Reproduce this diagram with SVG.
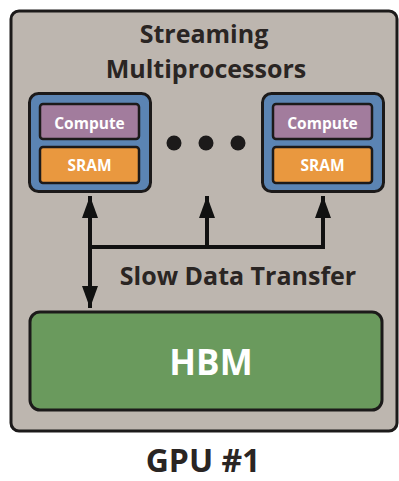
<svg xmlns="http://www.w3.org/2000/svg" width="399" height="481" viewBox="0 0 399 481">
<defs>
<style>
.t{font-family:"Open Sans","Liberation Sans",sans-serif;font-weight:700;text-anchor:middle}
.dark{fill:#2a2523}
.white{fill:#ffffff}
.sm{fill:#5b84b3;stroke:#1c1a1a;stroke-width:3}
.cmp{fill:#a27c9d;stroke:#1c1a1a;stroke-width:2.5}
.sram{fill:#e9983f;stroke:#1c1a1a;stroke-width:2.5}
.line{fill:none;stroke:#111;stroke-width:4}
</style>
<marker id="ah" viewBox="0 0 10 10" refX="10" refY="5" markerWidth="5.5" markerHeight="4" orient="auto" markerUnits="strokeWidth" preserveAspectRatio="none">
<path d="M0,0 L10,5 L0,10 z" fill="#111"/>
</marker>
</defs>
<g id="gpu">
<rect x="11" y="11" width="386" height="420" rx="8" fill="#bdb6af" stroke="#1c1a1a" stroke-width="3"/>
<text class="t dark" x="204" y="43" font-size="25">Streaming</text>
<text class="t dark" x="206" y="78" font-size="25">Multiprocessors</text>
</g>
<g id="sm1">
<rect class="sm" x="29.5" y="93.5" width="121" height="98" rx="9"/>
<rect class="cmp" x="40" y="104" width="99" height="35" rx="3"/>
<text class="t white" x="89.5" y="128.5" font-size="15.5">Compute</text>
<rect class="sram" x="40" y="147" width="99" height="36" rx="3"/>
<text class="t white" x="89.5" y="171" font-size="15.5">SRAM</text>
</g>
<g id="dots">
<circle cx="174" cy="143" r="7.5" fill="#1c1a1a"/>
<circle cx="206" cy="143" r="7.5" fill="#1c1a1a"/>
<circle cx="238" cy="143" r="7.5" fill="#1c1a1a"/>
</g>
<g id="sm2">
<rect class="sm" x="262.5" y="93.5" width="121" height="98" rx="9"/>
<rect class="cmp" x="273" y="104" width="99" height="35" rx="3"/>
<text class="t white" x="322.5" y="128.5" font-size="15.5">Compute</text>
<rect class="sram" x="273" y="147" width="99" height="36" rx="3"/>
<text class="t white" x="322.5" y="171" font-size="15.5">SRAM</text>
</g>
<g id="hbm">
<rect x="30" y="312" width="352" height="98" rx="10" fill="#6a9a5d" stroke="#1c1a1a" stroke-width="3"/>
<text class="t white" x="211" y="375" font-size="35">HBM</text>
</g>
<g id="connectors">
<line class="line" x1="90" y1="247" x2="90" y2="196" marker-end="url(#ah)"/>
<line class="line" x1="90" y1="247" x2="90" y2="308" marker-end="url(#ah)"/>
<polyline class="line" points="88,247 323,247 323,196" marker-end="url(#ah)"/>
<line class="line" x1="207" y1="249" x2="207" y2="196" marker-end="url(#ah)"/>
</g>
<text class="t dark" x="238" y="285" font-size="25">Slow Data Transfer</text>
<text class="t dark" x="203" y="472" font-size="32">GPU #1</text>
</svg>
